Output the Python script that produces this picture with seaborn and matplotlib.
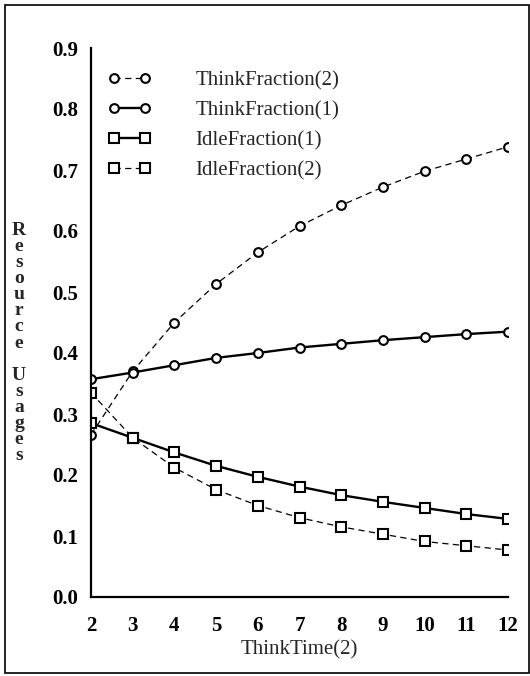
import matplotlib
matplotlib.use("Agg")
import matplotlib.pyplot as plt
import seaborn as sns
import pandas as pd
from matplotlib.patches import Rectangle

think_time = [2, 3, 4, 5, 6, 7, 8, 9, 10, 11, 12]
think_fraction_2 = [0.266, 0.370, 0.450, 0.513, 0.565, 0.608, 0.642, 0.672, 0.698, 0.718, 0.738]
think_fraction_1 = [0.357, 0.368, 0.380, 0.392, 0.400, 0.409, 0.415, 0.421, 0.426, 0.431, 0.435]
idle_fraction_1 = [0.285, 0.261, 0.237, 0.215, 0.197, 0.181, 0.167, 0.156, 0.146, 0.136, 0.128]
idle_fraction_2 = [0.335, 0.261, 0.212, 0.176, 0.150, 0.130, 0.115, 0.103, 0.091, 0.084, 0.077]

series_names = ["ThinkFraction(2)", "ThinkFraction(1)", "IdleFraction(1)", "IdleFraction(2)"]
series_values = [think_fraction_2, think_fraction_1, idle_fraction_1, idle_fraction_2]
y_ticks = [0.0, 0.1, 0.2, 0.3, 0.4, 0.5, 0.6, 0.7, 0.8, 0.9]

sns.set_style("white")
plt.rcParams["font.family"] = ["Liberation Serif", "DejaVu Serif"]

fig = plt.figure(figsize=(5.30, 6.76), dpi=100)
ax = fig.add_axes([91 / 530, 1 - 597 / 676, (508 - 91) / 530, (597 - 48) / 676])

styles = {
    "ThinkFraction(2)": dict(marker="o", dashed=True),
    "ThinkFraction(1)": dict(marker="o", dashed=False),
    "IdleFraction(1)": dict(marker="s", dashed=False),
    "IdleFraction(2)": dict(marker="s", dashed=True),
}

for name, vals in zip(series_names, series_values):
    df = pd.DataFrame({"ThinkTime": think_time, "value": vals})
    st = styles[name]
    kw = dict(
        marker=st["marker"],
        markersize=6.3 if st["marker"] == "o" else 6.5,
        markerfacecolor="white",
        markeredgecolor="black",
        markeredgewidth=1.5,
        color="black",
        linewidth=0.9 if st["dashed"] else 1.7,
    )
    if st["dashed"]:
        kw["linestyle"] = (0, (5, 3.5))
    sns.lineplot(data=df, x="ThinkTime", y="value", ax=ax, label=name, **kw)

ax.set_xlim(2, 12)
ax.set_ylim(0, 0.9)
ax.set_xticks(think_time)
ax.set_xticklabels([str(t) for t in think_time])
ax.set_yticks(y_ticks)
ax.set_yticklabels([f"{t:.1f}" for t in y_ticks])
ax.tick_params(axis="both", direction="out", length=4, width=1.2, colors="black",
               labelsize=15, pad=5)
for lab in ax.get_xticklabels() + ax.get_yticklabels():
    lab.set_fontweight("bold")
ax.tick_params(axis="x", pad=10)

for side in ["top", "right"]:
    ax.spines[side].set_visible(False)
for side in ["left", "bottom"]:
    ax.spines[side].set_linewidth(1.6)
    ax.spines[side].set_color("black")

ax.set_xlabel("ThinkTime(2)", fontsize=15)
ax.xaxis.set_label_coords(0.5, -(650 - 597) / 549)
ax.xaxis.label.set_va("center")
ylab = "\n".join(list("Resource")) + "\n\n" + "\n".join(list("Usages"))
ax.set_ylabel(ylab, rotation=0, fontsize=14, fontweight="bold", linespacing=0.93,
              va="center", ha="center")
ax.yaxis.set_label_coords((19 - 91) / 417, (597 - 343) / 549)

h, l = ax.get_legend_handles_labels()
leg = ax.legend(h, l, loc="upper left", bbox_to_anchor=(0.02, 0.973), frameon=False,
                numpoints=2, handlelength=2.1, handletextpad=2.1, labelspacing=0.5,
                fontsize=15, borderaxespad=0)

fig.patches.append(Rectangle((5 / 530, 1 - 673 / 676), (529 - 5) / 530, (673 - 5) / 676,
                             transform=fig.transFigure, fill=False, edgecolor="black",
                             linewidth=1.2))

fig.savefig("out.png", dpi=100, facecolor="white")
